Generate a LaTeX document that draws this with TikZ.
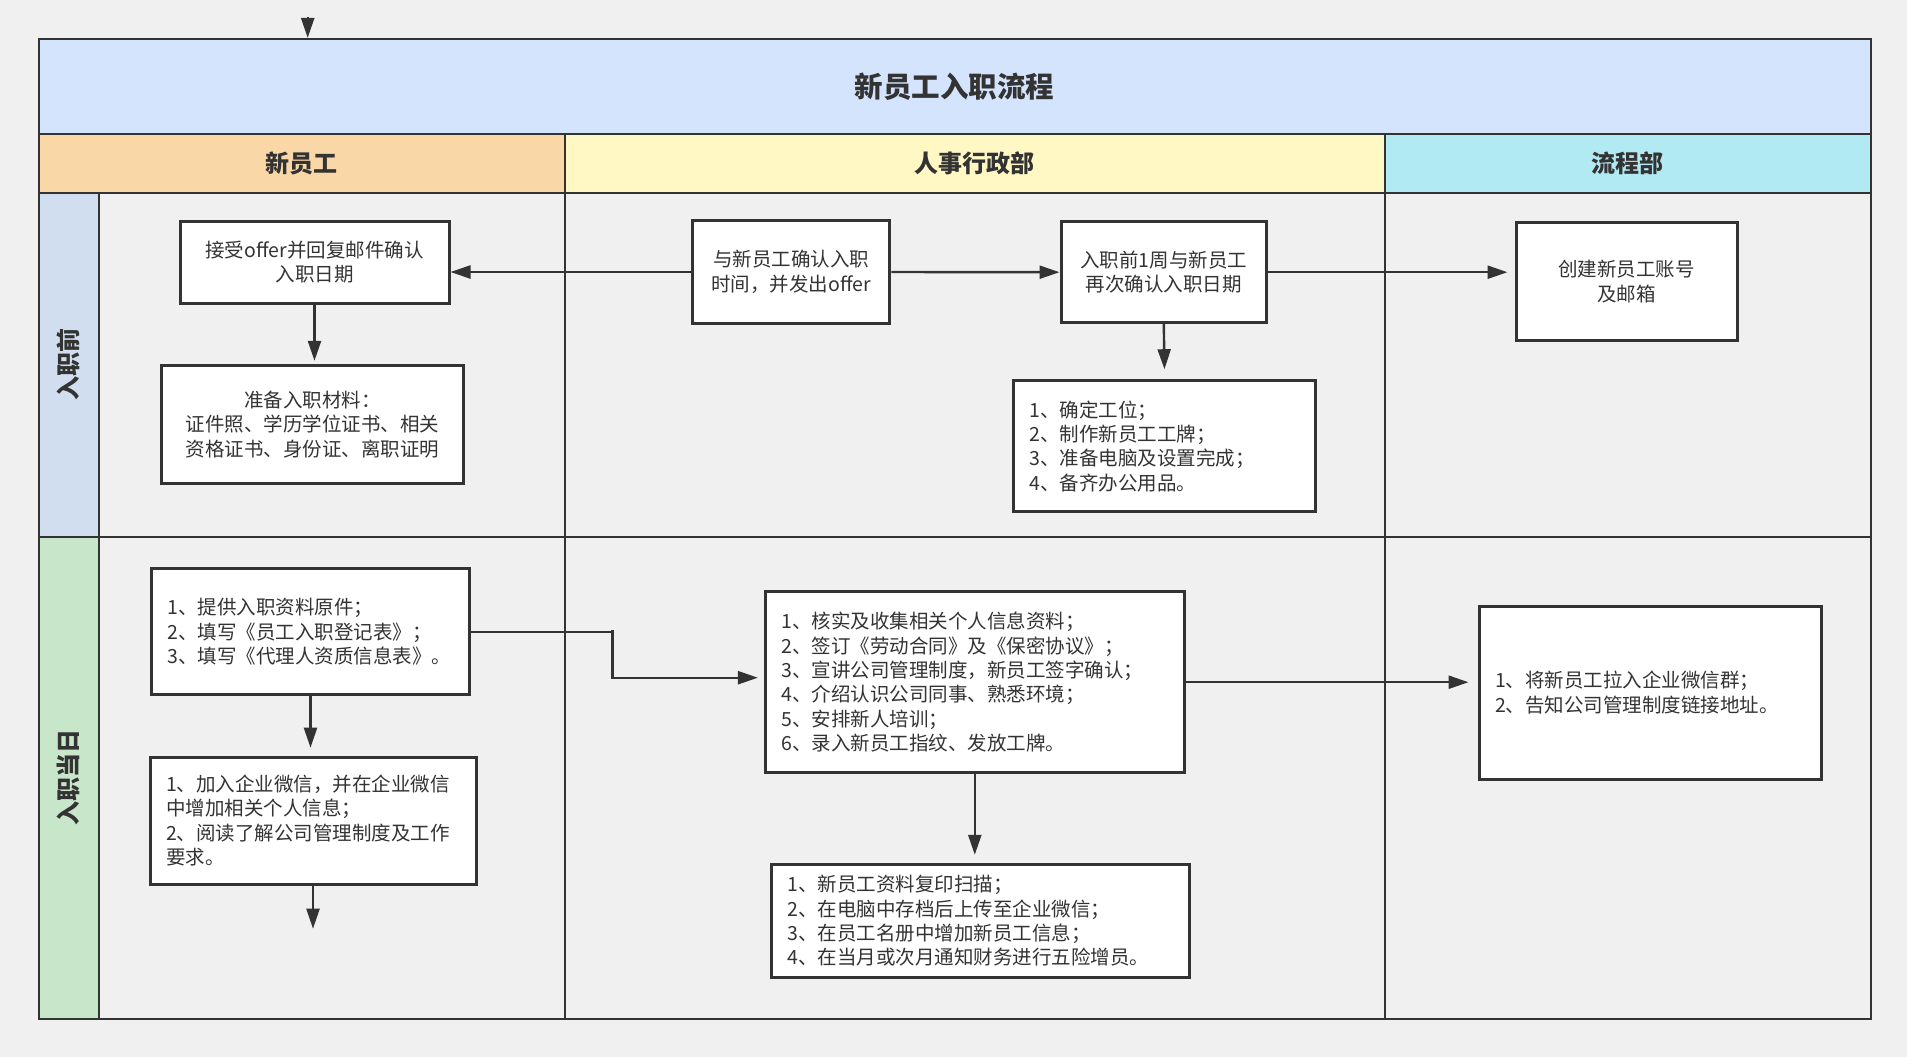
\documentclass[tikz,border=0pt]{standalone}
\usepackage{fontspec}
\setmainfont{Noto Sans CJK SC}
\usetikzlibrary{arrows.meta}
\definecolor{bgc}{HTML}{F0F0F0}
\definecolor{linec}{HTML}{333333}
\definecolor{txtc}{HTML}{333333}
\definecolor{titlec}{HTML}{D4E4FC}
\definecolor{orangec}{HTML}{F9D7A7}
\definecolor{yellowc}{HTML}{FFF8C5}
\definecolor{cyanc}{HTML}{B1EAF2}
\definecolor{bluec}{HTML}{D0DEEF}
\definecolor{greenc}{HTML}{C8E6CA}
\tikzset{
  boxc/.style={draw=linec, fill=white, line width=1.5pt, inner sep=0pt, text=txtc,
    align=center, font=\fontsize{9.75pt}{12.2pt}\selectfont},
  boxl/.style={draw=linec, fill=white, line width=1.5pt, inner ysep=0pt, inner xsep=8pt,
    text=txtc, align=left, font=\fontsize{9.75pt}{12.2pt}\selectfont},
  arr/.style={draw=linec, line width=1.2pt, -{Triangle[length=10pt,width=6.5pt]}},
  lanel/.style={draw=linec, line width=1pt},
  headt/.style={text=txtc, font=\fontsize{12pt}{14pt}\selectfont\bfseries},
}
\begin{document}
\begin{tikzpicture}[x=0.5pt,y=-0.5pt]
\useasboundingbox (0,0) rectangle (1907,1057);
\fill[bgc] (0,0) rectangle (1907,1057);
% title band
\node[draw=linec, line width=1pt, fill=titlec, minimum width=915.8pt, minimum height=47.55pt,
  inner sep=0pt, text=txtc, font=\fontsize{14.25pt}{16pt}\selectfont\bfseries]
  (title) at (954.7,86.45) {新员工入职流程};
% header cells
\fill[orangec] (38.9,134) rectangle (564.5,193);
\fill[yellowc] (564.5,134) rectangle (1385,193);
\fill[cyanc] (1385,134) rectangle (1870.5,193);
\fill[bluec] (38.9,193) rectangle (98.5,536.5);
\fill[greenc] (38.9,536.5) rectangle (98.5,1019);
\node[headt] (h1) at (301.7,163.5) {新员工};
\node[headt] (h2) at (974.7,163.5) {人事行政部};
\node[headt] (h3) at (1627.7,163.5) {流程部};
\node[headt, rotate=90] (r1) at (68.7,364.8) {入职前};
\node[headt, rotate=90] (r2) at (68.7,777.8) {入职当日};
% lane lines
\draw[lanel] (38.9,38.9) rectangle (1870.5,1019);
\draw[lanel] (38.9,134) -- (1870.5,134);
\draw[draw=linec, line width=1.4pt] (38.9,193) -- (1870.5,193);
\draw[lanel] (38.9,536.5) -- (1870.5,536.5);
\draw[lanel] (98.5,193) -- (98.5,1019);
\draw[lanel] (564.5,134) -- (564.5,1019);
\draw[lanel] (1385,134) -- (1385,1019);
% boxes
\node[boxc, minimum width=134.5pt, minimum height=40.75pt] (A) at (314.5,262.3)
  {接受offer并回复邮件确认\\入职日期};
\node[boxc, minimum width=151.25pt, minimum height=59.2pt] (B) at (312.7,424.5)
  {准备入职材料：\\证件照、学历学位证书、相关\\资格证书、身份证、离职证明};
\node[boxc, minimum width=98.75pt, minimum height=51.3pt] (C) at (791.2,272)
  {与新员工确认入职\\时间，并发出offer};
\node[boxc, minimum width=102.8pt, minimum height=50.5pt] (D) at (1163.8,272.2)
  {入职前1周与新员工\\再次确认入职日期};
\node[boxl, text width=135.1pt, minimum height=65.5pt] (E) at (1164.6,446.2)
  {1、确定工位；\\2、制作新员工工牌；\\3、准备电脑及设置完成；\\4、备齐办公用品。};
\node[boxc, minimum width=110.5pt, minimum height=59.35pt] (F) at (1626.5,281.6)
  {创建新员工账号\\及邮箱};
\node[boxl, text width=155pt, minimum height=86.5pt] (G) at (1650,692.5)
  {1、将新员工拉入企业微信群；\\2、告知公司管理制度链接地址。};
\node[boxl, text width=143pt, minimum height=63pt] (H) at (310.5,631.7)
  {1、提供入职资料原件；\\2、填写《员工入职登记表》；\\3、填写《代理人资质信息表》。};
\node[boxl, text width=147pt, minimum height=63.4pt] (I) at (313,820.6)
  {1、加入企业微信，并在企业微信\\中增加相关个人信息；\\2、阅读了解公司管理制度及工作\\要求。};
\node[boxl, text width=193.4pt, minimum height=90.5pt] (J) at (974.8,682.2)
  {1、核实及收集相关个人信息资料；\\2、签订《劳动合同》及《保密协议》；\\3、宣讲公司管理制度，新员工签字确认；\\4、介绍认识公司同事、熟悉环境；\\5、安排新人培训；\\6、录入新员工指纹、发放工牌。};
\node[boxl, text width=193.15pt, minimum height=56.5pt] (K) at (980.5,920.8)
  {1、新员工资料复印扫描；\\2、在电脑中存档后上传至企业微信；\\3、在员工名册中增加新员工信息；\\4、在当月或次月通知财务进行五险增员。};
% connectors
\coordinate (topin) at (307.7,16.7);
\coordinate (iend) at (313,928.7);
\coordinate (hbend) at (612.3,630);
\draw[arr] (topin) -- (topin |- title.north);
\draw[arr] (C.west) -- (C.west -| A.east);
\draw[arr] (C.east) -- (D.west);
\draw[arr, shorten >=3.5pt] (D.east) -- (D.east -| F.west);
\draw[arr, shorten >=5pt] (D.south) -- (E.north);
\draw[arr, shorten >=1.5pt] (A.south) -- (A.south |- B.north);
\draw[arr, shorten >=4pt] (H.south) -- (H.south |- I.north);
\draw[arr] (I.south) -- (iend);
\draw[arr, shorten >=3pt] (H.east) -| (hbend) |- ([yshift=2.25pt]J.west);
\draw[arr, shorten >=4.5pt] (J.east) -- (J.east -| G.west);
\draw[arr, shorten >=4pt] (J.south) -- (J.south |- K.north);
\end{tikzpicture}
\end{document}
